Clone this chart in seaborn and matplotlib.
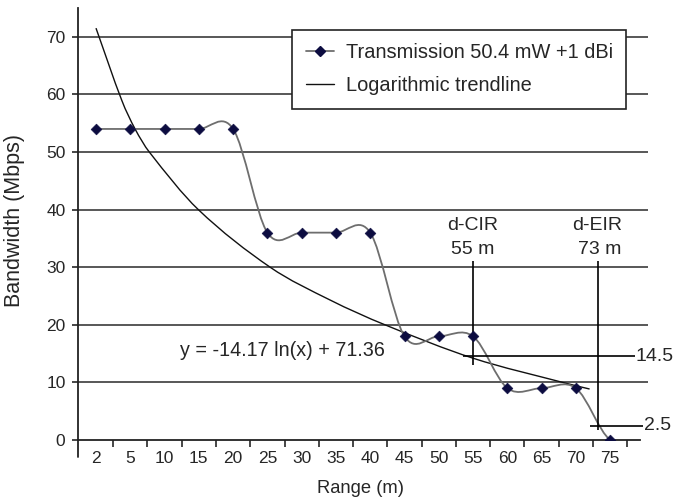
import numpy as np
import pandas as pd
import seaborn as sns
from matplotlib import pyplot as plt
from matplotlib.path import Path
from matplotlib.patches import PathPatch
from matplotlib.lines import Line2D

# values
ranges = ['2', '5', '10', '15', '20', '25', '30', '35', '40', '45', '50', '55', '60', '65', '70', '75']
bandwidth = [54, 54, 54, 54, 54, 36, 36, 36, 36, 18, 18, 18, 9, 9, 9, 0]

# trendline as drawn: (category position, value) pairs read where it crosses gridlines etc.
trend_pos = [0, 0.75, 1.14, 1.555, 2.985, 5.08, 6.83, 8.43, 11.0, 13.68, 14.4]
trend_vals = [71.5, 59.0, 54.0, 50.0, 40.0, 30.0, 24.3, 20.0, 14.2, 9.9, 8.85]

equation = 'y = -14.17 ln(x) + 71.36'
cir_name, cir_dist, cir_pos, cir_level = 'd-CIR', '55 m', 11, 14.5
eir_name, eir_dist, eir_pos, eir_level = 'd-EIR', '73 m', 14.65, 2.5

sns.set_style('white')
plt.rcParams['font.family'] = ['Liberation Sans', 'DejaVu Sans']

df = pd.DataFrame({'Range': ranges, 'Bandwidth': bandwidth})


def smooth_path(x, y, end_factor=0.5):
    # smoothed line drawn as hermite/bezier segments (like excel's smoothed lines)
    x = np.asarray(x, float)
    y = np.asarray(y, float)
    n = len(x)
    m = np.zeros(n)
    for i in range(1, n - 1):
        m[i] = (y[i + 1] - y[i - 1]) / (x[i + 1] - x[i - 1])
    m[0] = end_factor * (y[1] - y[0]) / (x[1] - x[0])
    m[-1] = end_factor * (y[-1] - y[-2]) / (x[-1] - x[-2])
    verts = [(x[0], y[0])]
    codes = [Path.MOVETO]
    for i in range(n - 1):
        h = (x[i + 1] - x[i]) / 3
        verts += [(x[i] + h, y[i] + h * m[i]), (x[i + 1] - h, y[i + 1] - h * m[i + 1]), (x[i + 1], y[i + 1])]
        codes += [Path.CURVE4] * 3
    return Path(verts, codes)


fig = plt.figure(figsize=(6.75, 4.99), dpi=100)
ax = fig.add_axes([78 / 675, 59 / 499, 562 / 675, 432 / 499])

grid_col = '#4a4a4a'
for v in range(10, 80, 10):
    ax.hlines(v, -0.525, 16.1, color=grid_col, lw=1.3, clip_on=False, zorder=1)

idx = np.arange(len(ranges))
ax.add_patch(PathPatch(smooth_path(idx, bandwidth), fill=False, edgecolor='#6e6e6e', lw=1.3, zorder=3))
ax.add_patch(PathPatch(smooth_path(trend_pos, trend_vals, end_factor=1.0), fill=False,
                       edgecolor='#111111', lw=1.0, zorder=2))

sns.scatterplot(data=df, x='Range', y='Bandwidth', marker='D', s=30, color='#0c0c40',
                edgecolor='#0c0c40', zorder=4, ax=ax, legend=False)

# d-CIR / d-EIR markers
ax.vlines(cir_pos, 13, 31, color='black', lw=1.2, zorder=3)
ax.vlines(eir_pos, 1.7, 31, color='black', lw=1.2, zorder=3)
ax.hlines(cir_level, 10.7, 15.73, color='black', lw=1.2, zorder=3)
ax.hlines(eir_level, 14.42, 15.96, color='black', lw=1.2, zorder=3, clip_on=False)
ax.text(15.75, cir_level, '14.5', fontsize=14, va='center', ha='left')
ax.text(15.98, eir_level, '2.5', fontsize=14, va='center', ha='left')
ax.text(cir_pos, 37.2, cir_name, fontsize=14, ha='center', va='center')
ax.text(cir_pos, 33.1, cir_dist, fontsize=14, ha='center', va='center')
ax.text(eir_pos - 0.03, 37.2, eir_name, fontsize=14, ha='center', va='center')
ax.text(eir_pos + 0.05, 33.1, eir_dist, fontsize=14, ha='center', va='center')
ax.text(2.45, 15.6, equation, fontsize=14.2, ha='left', va='center')

ax.set_xlim(-0.525, 15.87)
ax.set_ylim(0, 75)
ax.set_yticks(range(0, 80, 10))
ax.set_xticks(idx)
ax.set_xticklabels(ranges)
ax.set_xticks(np.arange(0.5, 16, 1), minor=True)
ax.tick_params(axis='x', which='major', length=0, pad=8, labelsize=12.5)
ax.tick_params(axis='x', which='minor', length=5, width=1.2, direction='out', bottom=True)
ax.tick_params(axis='y', length=4, width=1.2, direction='out', left=True, pad=5, labelsize=12.5)

sns.despine(ax=ax)
for s in ['left', 'bottom']:
    ax.spines[s].set_color('#222222')
    ax.spines[s].set_linewidth(1.3)
ax.plot([-0.525, -0.525], [0, -3], color='#222222', lw=1.3, clip_on=False)

ax.set_xlabel('Range (m)', fontsize=13.2)
ax.set_ylabel('Bandwidth (Mbps)', fontsize=15.5)
ax.xaxis.set_label_coords(0.502, -0.093)
ax.yaxis.set_label_coords(-0.094, 0.509)

handles = [
    Line2D([], [], color='#6e6e6e', lw=1.3, marker='D', markersize=4.8,
           markerfacecolor='#0c0c40', markeredgecolor='#0c0c40'),
    Line2D([], [], color='#111111', lw=1.0),
]
leg = ax.legend(handles, ['Transmission 50.4 mW +1 dBi', 'Logarithmic trendline'],
                loc='upper left', bbox_to_anchor=(0.381, 0.949), borderaxespad=0,
                fontsize=14.4, frameon=True, fancybox=False, framealpha=1,
                borderpad=0.67, labelspacing=0.7, handlelength=1.4, handletextpad=0.6)
leg.get_frame().set_edgecolor('#222222')
leg.get_frame().set_linewidth(1.2)
leg.set_zorder(5)

fig.savefig('out.png', dpi=100)
